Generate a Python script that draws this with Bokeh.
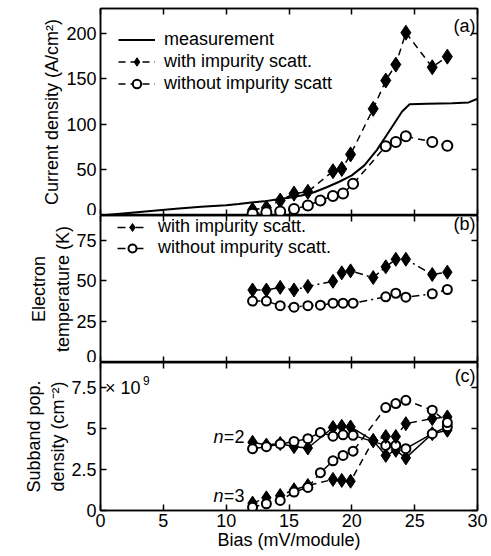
from bokeh.plotting import figure
from bokeh.layouts import column
from bokeh.models import (LinearAxis, Range1d, FixedTicker, Legend, LegendItem, Label,
                          CustomJSTickFormatter)
from bokeh.embed import file_html
from bokeh.resources import INLINE

# ---------------- data ----------------
x_ticks = [0, 5, 10, 15, 20, 25, 30]

bias_meas = [0, 2, 4, 6, 8, 10, 11, 12, 13, 14, 15, 16, 17, 18, 19, 20, 21, 22, 23, 24, 24.6, 26, 28, 29.3, 30]
j_meas = [0, 2.5, 5, 7.5, 9.5, 11.3, 12.7, 14.2, 15.5, 17.5, 19.5, 22, 25.5, 31, 37, 44, 55, 72, 93, 114, 122, 122.5, 123, 124, 128]

bias_with = [12.1, 13.2, 14.3, 15.4, 16.5, 18.5, 19.2, 19.9, 21.7, 22.7, 23.5, 24.3, 26.4, 27.6]
bias_without = [12.1, 13.2, 14.3, 15.4, 16.5, 17.5, 18.5, 19.3, 20.1, 22.7, 23.5, 24.3, 26.4, 27.6]

j_with = [6.2, 8.5, 16.4, 24, 26, 48.6, 51, 67, 117, 148, 165.5, 200.5, 162.6, 174.2]
j_without = [2, 3.5, 4.5, 7, 11, 16.4, 21.5, 24, 34.7, 76, 80.5, 86.8, 80.7, 76.4]

te_with = [44.4, 44.4, 46, 44.4, 46.6, 49.7, 54.9, 56.1, 52, 58.6, 63.2, 63.2, 53.9, 55.3]
te_without = [37.6, 37.6, 34.8, 33.9, 34.8, 35.1, 36.3, 36.3, 36.3, 40.2, 42.4, 40, 42.1, 44.7]

# subband populations, units of 1e9 cm^-2
n2_with = [4.15, 3.98, 4.07, 3.88, 3.8, 5.05, 5.12, 5.08, 4.25, 3.35, 3.66, 3.2, 4.67, 4.88]
n2_without = [3.76, 3.88, 4.05, 4.2, 4.37, 4.75, 4.52, 4.6, 4.57, 3.96, 3.96, 3.76, 4.67, 5.1]
n3_with = [0.45, 0.77, 0.91, 1.26, 1.52, 1.89, 1.83, 1.78, 4.25, 4.5, 4.5, 5.28, 5.59, 5.69]
n3_without = [0.2, 0.41, 0.61, 1.12, 1.4, 2.3, 3.02, 3.35, 3.61, 6.26, 6.5, 6.7, 6.1, 5.35]

ticks_a = [0, 50, 100, 150, 200]
ticks_b = [0, 25, 50, 75]
ticks_c = [0, 2.5, 5, 7.5]

FONT = "Liberation Sans"
FS = "18px"
fmt_code = "return String(tick)"
STANDOFF = 4


def style_axis(ax, ticks, labels):
    ax.ticker = FixedTicker(ticks=ticks)
    ax.formatter = CustomJSTickFormatter(code=fmt_code)
    ax.major_tick_in = 6
    ax.major_tick_out = 0
    ax.minor_tick_line_color = None
    ax.axis_line_width = 1.5
    ax.axis_line_color = "black"
    ax.major_tick_line_width = 1.5
    ax.major_tick_line_color = "black"
    if labels:
        ax.major_label_text_font = FONT
        ax.major_label_text_font_size = FS
        ax.major_label_text_color = "black"
        ax.major_label_standoff = STANDOFF
        ax.axis_label_text_font = FONT
        ax.axis_label_text_font_size = FS
        ax.axis_label_text_font_style = "normal"
        ax.axis_label_text_color = "black"
    else:
        ax.major_label_text_font_size = "0px"
        ax.major_label_standoff = 0
        ax.major_label_text_alpha = 0


def make_panel(ymax, yticks, ylabel, frame_h, top_border, x_labels, ylabel_standoff):
    p = figure(frame_width=377, frame_height=frame_h,
               x_range=Range1d(0, 30), y_range=Range1d(0, ymax),
               x_axis_location=None, y_axis_location=None,
               output_backend="svg", toolbar_location=None,
               min_border_left=100, min_border_right=12,
               min_border_top=top_border, min_border_bottom=0)
    p.grid.visible = False
    p.outline_line_color = "black"
    p.outline_line_width = 1.5
    p.background_fill_color = "white"
    p.border_fill_color = "white"

    left = LinearAxis(axis_label=ylabel)
    style_axis(left, yticks, True)
    left.axis_label_standoff = ylabel_standoff
    p.add_layout(left, "left")

    right = LinearAxis()
    style_axis(right, yticks, False)
    p.add_layout(right, "right")

    top = LinearAxis()
    style_axis(top, x_ticks, False)
    p.add_layout(top, "above")

    bottom = LinearAxis(axis_label="Bias (mV/module)" if x_labels else None)
    style_axis(bottom, x_ticks, x_labels)
    if x_labels:
        bottom.major_label_standoff = 3
        bottom.axis_label_standoff = 0
    p.add_layout(bottom, "below")
    return p


def panel_tag(p, x, y, txt):
    p.add_layout(Label(x=x, y=y, text=txt, text_align="right", text_baseline="middle",
                       text_font=FONT, text_font_size=FS, text_color="black"))


def carry_zero(p, ytop):
    # lower half of the previous panel's "0" tick label, which straddles the canvas edge
    p.add_layout(Label(x=0, y=ytop, x_offset=-STANDOFF, text="0", text_align="right",
                       text_baseline="middle", text_font=FONT, text_font_size=FS,
                       text_color="black"))


# ---------------- panel (a) ----------------
pa = make_panel(227, ticks_a, "Current density (A/cm²)", 207, 8, False, 1)
r_meas = pa.line(bias_meas, j_meas, line_color="black", line_width=2)
r_wl = pa.line(bias_with, j_with, line_color="black", line_width=1.5, line_dash="7 5")
r_ws = pa.scatter(bias_with, j_with, marker="diamond", size=15, fill_color="black", line_color="black")
r_ol = pa.line(bias_without, j_without, line_color="black", line_width=1.5, line_dash="7 5")
r_os = pa.scatter(bias_without, j_without, marker="circle", size=10, fill_color="white",
                  line_color="black", line_width=2)
leg_a = Legend(items=[LegendItem(label="measurement", renderers=[r_meas]),
                      LegendItem(label="with impurity scatt.", renderers=[r_wl, r_ws]),
                      LegendItem(label="without impurity scatt", renderers=[r_ol, r_os])],
               location=(18, 121), padding=0, margin=0, spacing=1,
               glyph_width=37, glyph_height=21, label_height=21, label_standoff=9,
               border_line_color=None, background_fill_alpha=0,
               label_text_font=FONT, label_text_font_size=FS, label_text_color="black")
pa.add_layout(leg_a)
panel_tag(pa, 29.85, 208, "(a)")

# ---------------- panel (b) ----------------
pb = make_panel(90, ticks_b, "Electron\ntemperature (K)", 147, 0, False, 0)
r_tl = pb.line(bias_with, te_with, line_color="black", line_width=1.5, line_dash="8 4 2 4")
r_ts = pb.scatter(bias_with, te_with, marker="diamond", size=14, fill_color="black", line_color="black")
r_ul = pb.line(bias_without, te_without, line_color="black", line_width=1.5, line_dash="8 4 2 4")
r_us = pb.scatter(bias_without, te_without, marker="circle", size=9, fill_color="white",
                  line_color="black", line_width=2)
leg_b = Legend(items=[LegendItem(label="with impurity scatt.", renderers=[r_tl, r_ts]),
                      LegendItem(label="without impurity scatt.", renderers=[r_ul, r_us])],
               location=(17, 104), padding=0, margin=0, spacing=0,
               glyph_width=30, glyph_height=20, label_height=20, label_standoff=11,
               border_line_color=None, background_fill_alpha=0,
               label_text_font=FONT, label_text_font_size=FS, label_text_color="black")
pb.add_layout(leg_b)
panel_tag(pb, 29.85, 84.8, "(b)")
carry_zero(pb, 90)

# ---------------- panel (c) ----------------
pc = make_panel(9, ticks_c, "Subband pop.\ndensity (cm⁻²)", 148, 0, True, 0)
pc.line(bias_with, n2_with, line_color="black", line_width=1.5)
pc.scatter(bias_with, n2_with, marker="diamond", size=14, fill_color="black", line_color="black")
pc.line(bias_without, n2_without, line_color="black", line_width=1.5)
pc.scatter(bias_without, n2_without, marker="circle", size=9, fill_color="white",
           line_color="black", line_width=2)
pc.line(bias_with, n3_with, line_color="black", line_width=1.5, line_dash="7 5")
pc.scatter(bias_with, n3_with, marker="diamond", size=14, fill_color="black", line_color="black")
pc.line(bias_without, n3_without, line_color="black", line_width=1.5, line_dash="7 5")
pc.scatter(bias_without, n3_without, marker="circle", size=9, fill_color="white",
           line_color="black", line_width=2)
panel_tag(pc, 29.85, 8.2, "(c)")
carry_zero(pc, 9)

pc.add_layout(Label(x=0.35, y=7.45, text="× 10", text_align="left", text_baseline="middle",
                    text_font=FONT, text_font_size=FS, text_color="black"))
pc.add_layout(Label(x=0.35, y=7.45, x_offset=38, y_offset=7, text="9", text_align="left",
                    text_baseline="middle", text_font=FONT, text_font_size="12px", text_color="black"))

for yv, num in [(4.47, "=2"), (0.91, "=3")]:
    pc.add_layout(Label(x=11.45, y=yv, text=num, text_align="right", text_baseline="middle",
                        text_font=FONT, text_font_size=FS, text_color="black"))
    pc.add_layout(Label(x=11.45, y=yv, x_offset=-21, text="n", text_align="right",
                        text_baseline="middle", text_font=FONT, text_font_size=FS,
                        text_font_style="italic", text_color="black"))

layout = column(pa, pb, pc, spacing=0)
open("out.html", "w").write(file_html(layout, INLINE))
